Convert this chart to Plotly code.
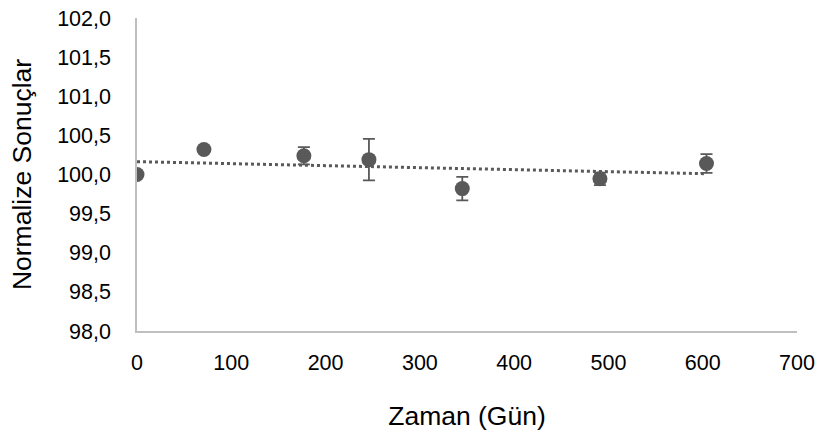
import numpy as np
import plotly.graph_objects as go

days = [0, 71, 177, 246, 345, 491, 604]
normalized = [100.00, 100.32, 100.24, 100.19, 99.82, 99.945, 100.14]
errors = [0.0, 0.03, 0.11, 0.265, 0.15, 0.08, 0.12]

x_ticks = [0, 100, 200, 300, 400, 500, 600, 700]
y_ticks = [98.0, 98.5, 99.0, 99.5, 100.0, 100.5, 101.0, 101.5, 102.0]
y_tick_labels = [f"{v:.1f}".replace(".", ",") for v in y_ticks]

slope, intercept = np.polyfit(days, normalized, 1)
trend_x = [min(days), max(days)]
trend_y = [intercept + slope * v for v in trend_x]

FONT = "Liberation Sans, Arial, sans-serif"
GREY = "#595959"

fig = go.Figure()
fig.add_trace(go.Scatter(
    x=trend_x, y=trend_y, mode="lines",
    line=dict(color=GREY, width=3, dash="dot"),
    hoverinfo="skip", showlegend=False,
))
fig.add_trace(go.Scatter(
    x=days, y=normalized, mode="markers",
    marker=dict(color=GREY, size=15),
    error_y=dict(type="data", array=errors, visible=True,
                 color=GREY, thickness=1.8, width=6),
    showlegend=False,
))

fig.update_layout(
    width=822, height=434,
    margin=dict(l=137, r=25, t=18, b=103),
    paper_bgcolor="white", plot_bgcolor="white",
    font=dict(family=FONT, size=21.5, color="#000000"),
    xaxis=dict(
        range=[0, 700], tickvals=x_ticks, ticktext=[str(v) for v in x_ticks],
        showgrid=False, zeroline=False, showline=True,
        linecolor="#bfbfbf", linewidth=1.5, ticks="",
        ticklabelstandoff=11,
        title=dict(text="Zaman (Gün)", font=dict(size=26.5), standoff=33),
        automargin=False,
    ),
    yaxis=dict(
        range=[98, 102], tickvals=y_ticks, ticktext=y_tick_labels,
        showgrid=False, zeroline=False, showline=True,
        linecolor="#bfbfbf", linewidth=1.5,
        ticks="outside", ticklen=20, tickcolor="rgba(0,0,0,0)",
        title=dict(text="Normalize Sonuçlar", font=dict(size=26.5), standoff=18),
        automargin=False,
    ),
)

fig.write_html(
    "out.html",
    config={"displayModeBar": False},
    post_script="document.body.style.margin='0';document.body.style.overflow='hidden';",
)
